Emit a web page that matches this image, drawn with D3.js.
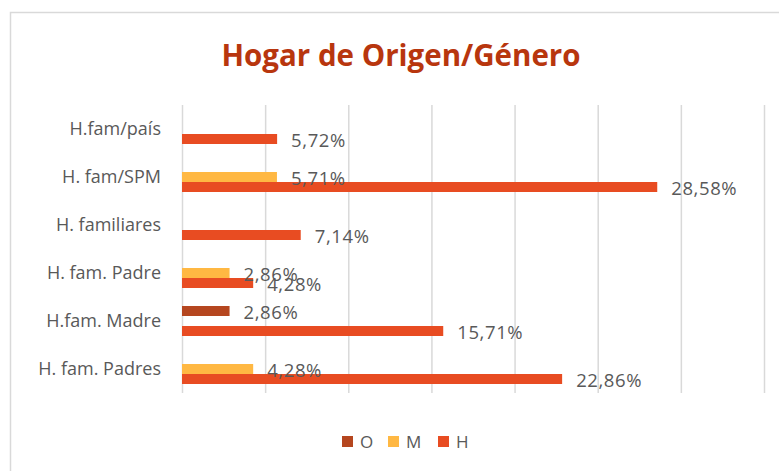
<!DOCTYPE html>
<html>
<head>
<meta charset="utf-8">
<script src="https://cdn.jsdelivr.net/npm/d3@7"></script>
<style>
  body { margin: 0; background: #fff; }
  svg text { font-family: "Open Sans", "Noto Sans", sans-serif; }
</style>
</head>
<body>
<div id="chart"></div>
<script>
// categories top to bottom
var categories = ["H.fam/país", "H. fam/SPM", "H. familiares", "H. fam. Padre", "H.fam. Madre", "H. fam. Padres"];
var seriesNames = ["O", "M", "H"];
// values in %, null = no bar
var valuesO = [null, null, null, null, 2.86, null];
var valuesM = [null, 5.71, null, 2.86, null, 4.28];
var valuesH = [5.72, 28.58, 7.14, 4.28, 15.71, 22.86];
var tickValues = [0, 5, 10, 15, 20, 25, 30, 35];

var colors = { O: "#B5461F", M: "#FFB843", H: "#E84C22" };
var series = { O: valuesO, M: valuesM, H: valuesH };

var W = 779, H = 471;
var svg = d3.select("#chart").append("svg")
    .attr("width", W)
    .attr("height", H);

// chart frame
svg.append("rect")
    .attr("x", 10.5).attr("y", 12.5)
    .attr("width", 820).attr("height", 520)
    .attr("fill", "#fff")
    .attr("stroke", "#d9d9d9")
    .attr("stroke-width", 1.5);

svg.append("text")
    .attr("x", 401).attr("y", 66)
    .attr("text-anchor", "middle")
    .attr("fill", "#B8360E")
    .style("font-size", "29.5px")
    .style("font-weight", "bold")
    .text("Hogar de Origen/Género");

var x = d3.scaleLinear().domain([0, 35]).range([182, 764]);
var y = d3.scaleBand().domain(categories).range([105, 393])
    .paddingInner(0.375).paddingOuter(0.1875);
var y1 = d3.scaleBand().domain(seriesNames).range([0, y.bandwidth()]);

// gridlines
var grid = svg.append("g")
    .attr("transform", "translate(0,393)")
    .call(d3.axisBottom(x).tickValues(tickValues).tickSize(-(393 - 105)).tickFormat(""));
grid.select(".domain").remove();
grid.selectAll(".tick line").attr("stroke", "#d9d9d9").attr("stroke-width", 1.5);

// category labels
svg.append("g").selectAll("text")
    .data(categories)
    .enter()
    .append("text")
    .attr("x", 161)
    .attr("y", (d) => y(d) + y.bandwidth() / 2)
    .attr("dy", "0.35em")
    .attr("text-anchor", "end")
    .attr("fill", "#595959")
    .style("font-size", "18px")
    .text((d) => d);

var rows = [];
seriesNames.forEach(function(s) {
    series[s].forEach(function(v, i) {
        if (v != null) rows.push({ s: s, cat: categories[i], v: v });
    });
});

svg.append("g").selectAll("rect")
    .data(rows)
    .enter()
    .append("rect")
    .attr("x", x(0))
    .attr("y", (d) => y(d.cat) + y1(d.s))
    .attr("width", (d) => x(d.v) - x(0))
    .attr("height", y1.bandwidth())
    .attr("fill", (d) => colors[d.s]);

svg.append("g").selectAll("text")
    .data(rows)
    .enter()
    .append("text")
    .attr("x", (d) => x(d.v) + 14)
    .attr("y", (d) => y(d.cat) + y1(d.s) + y1.bandwidth() / 2 + 2)
    .attr("dy", "0.35em")
    .attr("fill", "#595959")
    .style("font-size", "18.5px")
    .style("letter-spacing", "0.6px")
    .text((d) => d.v.toFixed(2).replace(".", ",") + "%");

// legend
var legendX = [342, 388, 438];
var legend = svg.append("g").selectAll("g")
    .data(seriesNames)
    .enter()
    .append("g")
    .attr("transform", (d, i) => "translate(" + legendX[i] + ",436)");
legend.append("rect")
    .attr("width", 11).attr("height", 11)
    .attr("fill", (d) => colors[d]);
legend.append("text")
    .attr("x", 18).attr("y", 6)
    .attr("dy", "0.35em")
    .attr("fill", "#595959")
    .style("font-size", "17px")
    .text((d) => d);
</script>
</body>
</html>
